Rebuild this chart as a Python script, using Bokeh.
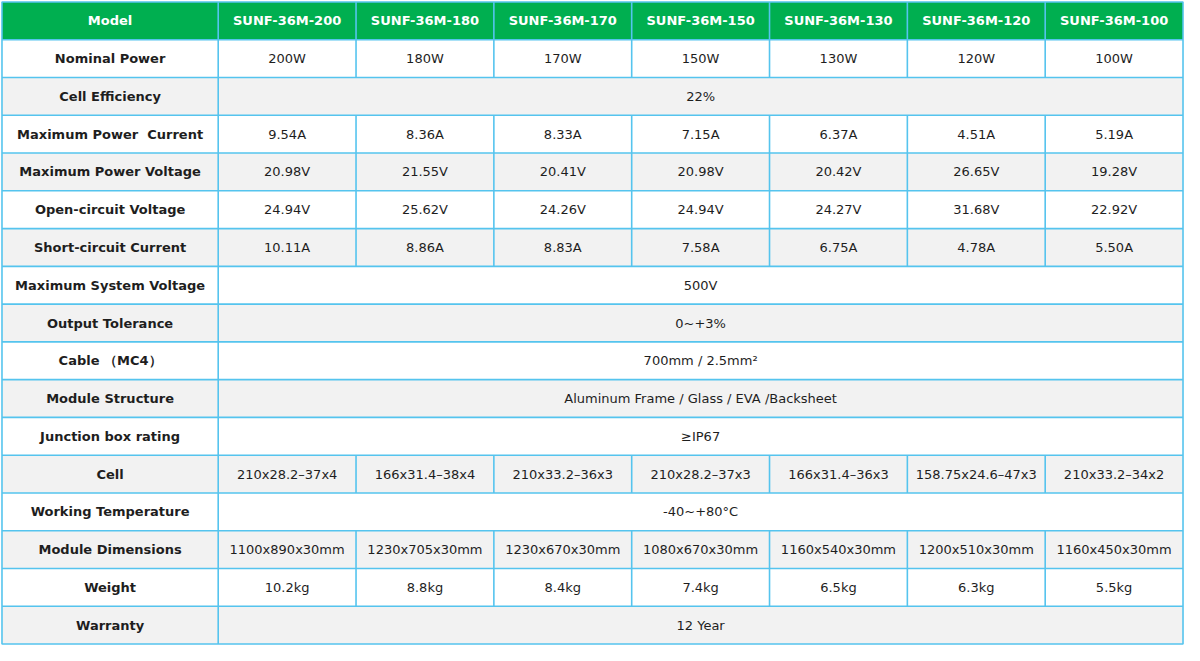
from bokeh.plotting import figure
from bokeh.models import ColumnDataSource, Range1d
from bokeh.core.properties import value
from bokeh.embed import file_html
from bokeh.resources import INLINE

# ---------------- data ----------------
header_label = "Model"
models = ["SUNF-36M-200", "SUNF-36M-180", "SUNF-36M-170", "SUNF-36M-150",
          "SUNF-36M-130", "SUNF-36M-120", "SUNF-36M-100"]

row_labels = ["Nominal Power", "Cell Efficiency", "Maximum Power\u00a0 Current",
              "Maximum Power Voltage", "Open-circuit Voltage", "Short-circuit Current",
              "Maximum System Voltage", "Output Tolerance", "Cable （MC4）",
              "Module Structure", "Junction box rating", "Cell",
              "Working Temperature", "Module Dimensions", "Weight", "Warranty"]

nominal_power = ["200W", "180W", "170W", "150W", "130W", "120W", "100W"]
cell_efficiency = "22%"
max_power_current = ["9.54A", "8.36A", "8.33A", "7.15A", "6.37A", "4.51A", "5.19A"]
max_power_voltage = ["20.98V", "21.55V", "20.41V", "20.98V", "20.42V", "26.65V", "19.28V"]
open_circuit_voltage = ["24.94V", "25.62V", "24.26V", "24.94V", "24.27V", "31.68V", "22.92V"]
short_circuit_current = ["10.11A", "8.86A", "8.83A", "7.58A", "6.75A", "4.78A", "5.50A"]
max_system_voltage = "500V"
output_tolerance = "0~+3%"
cable = "700mm / 2.5mm²"
module_structure = "Aluminum Frame / Glass / EVA /Backsheet"
junction_box = "≥IP67"
cell = ["210x28.2–37x4", "166x31.4–38x4", "210x33.2–36x3", "210x28.2–37x3",
        "166x31.4–36x3", "158.75x24.6–47x3", "210x33.2–34x2"]
working_temperature = "-40~+80°C"
module_dimensions = ["1100x890x30mm", "1230x705x30mm", "1230x670x30mm", "1080x670x30mm",
                     "1160x540x30mm", "1200x510x30mm", "1160x450x30mm"]
weight = ["10.2kg", "8.8kg", "8.4kg", "7.4kg", "6.5kg", "6.3kg", "5.5kg"]
warranty = "12 Year"

row_values = [nominal_power, cell_efficiency, max_power_current, max_power_voltage,
              open_circuit_voltage, short_circuit_current, max_system_voltage,
              output_tolerance, cable, module_structure, junction_box, cell,
              working_temperature, module_dimensions, weight, warranty]

# ---------------- layout (table units) ----------------
X0, X1 = 4.0, 1197.5       # table left / right
Y0, Y1 = 4.3, 656.0        # table top / bottom
LABEL_W = 218.5
n_cols = len(models)
n_rows = len(row_labels) + 1
COL_W = (X1 - X0 - LABEL_W) / n_cols
ROW_H = (Y1 - Y0) / n_rows

GREEN = "#00AF50"
BORDER = "#55C4EE"
GRAY = "#F2F2F2"
TEXT = "#1E1E1E"
FONT = "DejaVu Sans"
FS = "13px"

def col_left(c):
    return X0 + LABEL_W + c * COL_W

bg = dict(left=[], right=[], top=[], bottom=[], color=[])
hdr_txt = dict(x=[], y=[], t=[])
lab_txt = dict(x=[], y=[], t=[])
val_txt = dict(x=[], y=[], t=[])
vseg = dict(x0=[], y0=[], x1=[], y1=[])
hseg = dict(x0=[], y0=[], x1=[], y1=[])

# header row
top, bot = Y0, Y0 + ROW_H
bg["left"].append(X0); bg["right"].append(X1); bg["top"].append(top); bg["bottom"].append(bot); bg["color"].append(GREEN)
hdr_txt["x"].append(X0 + LABEL_W / 2); hdr_txt["y"].append((top + bot) / 2); hdr_txt["t"].append(header_label)
for c, m in enumerate(models):
    hdr_txt["x"].append(col_left(c) + COL_W / 2); hdr_txt["y"].append((top + bot) / 2); hdr_txt["t"].append(m)
for c in range(n_cols):
    x = col_left(c)
    vseg["x0"].append(x); vseg["x1"].append(x); vseg["y0"].append(top); vseg["y1"].append(bot)

for r, (lab, vals) in enumerate(zip(row_labels, row_values)):
    top = Y0 + (r + 1) * ROW_H
    bot = top + ROW_H
    ym = (top + bot) / 2
    bg["left"].append(X0); bg["right"].append(X1); bg["top"].append(top); bg["bottom"].append(bot)
    bg["color"].append("#FFFFFF" if r % 2 == 0 else GRAY)
    lab_txt["x"].append(X0 + LABEL_W / 2); lab_txt["y"].append(ym); lab_txt["t"].append(lab)
    hseg["x0"].append(X0); hseg["x1"].append(X1); hseg["y0"].append(top); hseg["y1"].append(top)
    vseg["x0"].append(col_left(0)); vseg["x1"].append(col_left(0)); vseg["y0"].append(top); vseg["y1"].append(bot)
    if isinstance(vals, str):
        val_txt["x"].append(col_left(0) + n_cols * COL_W / 2); val_txt["y"].append(ym); val_txt["t"].append(vals)
    else:
        for c, v in enumerate(vals):
            val_txt["x"].append(col_left(c) + COL_W / 2); val_txt["y"].append(ym); val_txt["t"].append(v)
            if c > 0:
                x = col_left(c)
                vseg["x0"].append(x); vseg["x1"].append(x); vseg["y0"].append(top); vseg["y1"].append(bot)

p = figure(width=1184, height=645, output_backend="svg", toolbar_location=None,
           x_range=Range1d(X0 - 1.5, X1 + 1.5), y_range=Range1d(Y1 + 1.5, Y0 - 1.5),
           min_border=0, tools="")
p.axis.visible = False
p.grid.visible = False
p.outline_line_color = None
p.background_fill_color = "#FFFFFF"
p.border_fill_color = "#FFFFFF"

p.quad(source=ColumnDataSource(bg), left="left", right="right", top="top", bottom="bottom",
       fill_color="color", line_color=None)
p.segment(source=ColumnDataSource(hseg), x0="x0", y0="y0", x1="x1", y1="y1",
          line_color=BORDER, line_width=1.6)
p.segment(source=ColumnDataSource(vseg), x0="x0", y0="y0", x1="x1", y1="y1",
          line_color=BORDER, line_width=1.6)
p.quad(left=[X0], right=[X1], top=[Y0], bottom=[Y1], fill_color=None,
       line_color=BORDER, line_width=1.6)

p.text(source=ColumnDataSource(hdr_txt), x="x", y="y", text="t", text_align="center",
       text_baseline="middle", text_font=value(FONT), text_font_style="bold",
       text_font_size=FS, text_color="#FFFFFF")
p.text(source=ColumnDataSource(lab_txt), x="x", y="y", text="t", text_align="center",
       text_baseline="middle", text_font=value(FONT), text_font_style="bold",
       text_font_size=FS, text_color=TEXT)
p.text(source=ColumnDataSource(val_txt), x="x", y="y", text="t", text_align="center",
       text_baseline="middle", text_font=value(FONT), text_font_size=FS,
       text_color=TEXT)

open("out.html", "w").write(file_html(p, INLINE))
